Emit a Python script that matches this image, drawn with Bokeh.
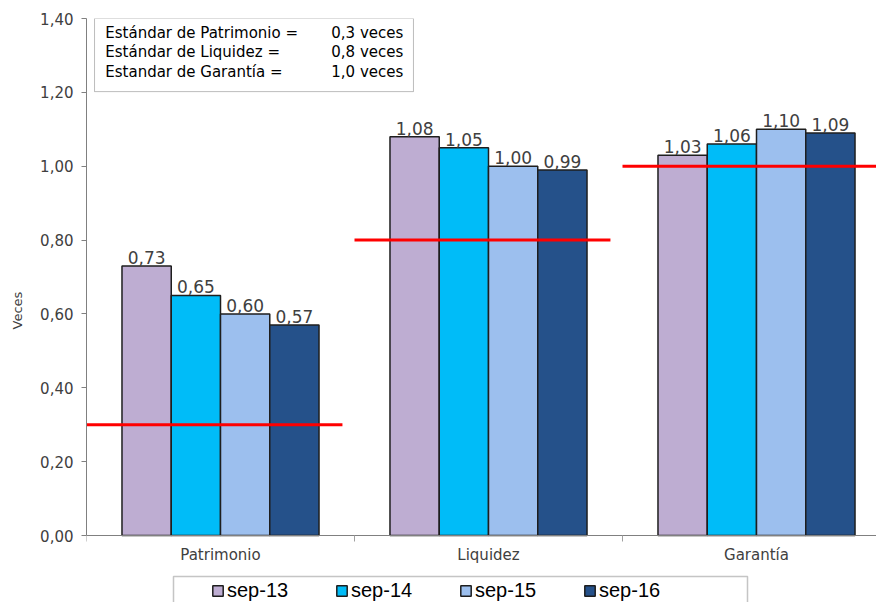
from bokeh.plotting import figure
from bokeh.models import (Range1d, FixedTicker, Legend, LegendItem, BoxAnnotation,
                          Label, ColumnDataSource)
from bokeh.core.properties import value
from bokeh.embed import file_html
from bokeh.resources import INLINE

# ---------------- data ----------------
categories = ["Patrimonio", "Liquidez", "Garantía"]
series = ["sep-13", "sep-14", "sep-15", "sep-16"]
values = {
    "sep-13": [0.73, 1.08, 1.03],
    "sep-14": [0.65, 1.05, 1.06],
    "sep-15": [0.60, 1.00, 1.10],
    "sep-16": [0.57, 0.99, 1.09],
}
standards = [0.3, 0.8, 1.0]
standard_names = ["Estándar de Patrimonio =", "Estándar de Liquidez =", "Estandar de Garantía ="]
standard_texts = ["0,3 veces", "0,8 veces", "1,0 veces"]
y_ticks = [0.0, 0.2, 0.4, 0.6, 0.8, 1.0, 1.2, 1.4]
y_tick_labels = ["0,00", "0,20", "0,40", "0,60", "0,80", "1,00", "1,20", "1,40"]
colors = ["#BEADD2", "#00BCF8", "#9CBFEE", "#25518A"]

FONT = "DejaVu Sans"
PX_PER_UNIT = 369.3          # vertical scale
Y_MIN = -(602 - 535) / PX_PER_UNIT   # room below zero for labels and legend

p = figure(width=876, height=602, output_backend="svg", toolbar_location=None,
           x_range=Range1d(0, 790 / 268), y_range=Range1d(Y_MIN, 1.4),
           min_border_left=86, min_border_right=0, min_border_top=18, min_border_bottom=0)
p.outline_line_color = None
p.xgrid.grid_line_color = None
p.ygrid.grid_line_color = None
p.background_fill_color = "white"

bar_w = 0.1838
renderers = []
for j, s in enumerate(series):
    xs = [i + 0.5 + (j - 1.5) * bar_w for i in range(len(categories))]
    src = ColumnDataSource(dict(x=xs, top=values[s],
                                lbl=[f"{v:.2f}".replace(".", ",") for v in values[s]]))
    r = p.vbar(x="x", top="top", bottom=0, width=bar_w, source=src,
               fill_color=colors[j], line_color="#1E1E1E", line_width=1.5)
    renderers.append(r)
    p.text(x="x", y="top", text="lbl", source=src, text_align="center",
           text_baseline="bottom", y_offset=-2, text_font=value(FONT),
           text_font_size="17px", text_color="#404040")

# standard red lines
p.segment(x0=[i for i in range(len(categories))],
          x1=[i + 0.955 for i in range(len(categories))],
          y0=standards, y1=standards, line_color="#FF0000", line_width=3)

# y axis
p.yaxis.ticker = FixedTicker(ticks=y_ticks)
p.yaxis.bounds = (0, 1.4)
p.yaxis.major_label_overrides = {t: l for t, l in zip(y_ticks, y_tick_labels)}
p.yaxis.axis_label = "Veces"
p.yaxis.axis_label_text_font = FONT
p.yaxis.axis_label_text_font_style = "normal"
p.yaxis.axis_label_text_font_size = "13px"
p.yaxis.axis_label_text_color = "#404040"
p.yaxis.axis_label_standoff = 12
p.yaxis.major_label_text_font = FONT
p.yaxis.major_label_text_font_size = "15px"
p.yaxis.major_label_text_color = "#404040"
p.yaxis.major_label_standoff = 8
p.yaxis.axis_line_color = "#808080"
p.yaxis.major_tick_line_color = "#808080"
p.yaxis.major_tick_out = 5
p.yaxis.major_tick_in = 0
p.yaxis.minor_tick_line_color = None

# x axis, fixed at y = 0
cat_centers = [i + 0.5 for i in range(len(categories))]
p.xaxis.fixed_location = 0
p.xaxis.ticker = FixedTicker(ticks=cat_centers, minor_ticks=list(range(len(categories) + 1)))
p.xaxis.major_label_overrides = {c: n for c, n in zip(cat_centers, categories)}
p.xaxis.major_tick_line_color = None
p.xaxis.major_tick_out = 0
p.xaxis.major_tick_in = 0
p.xaxis.minor_tick_line_color = "#A0A0A0"
p.xaxis.minor_tick_out = 6
p.xaxis.minor_tick_in = 0
p.xaxis.axis_line_color = "#808080"
p.xaxis.major_label_text_font = FONT
p.xaxis.major_label_text_font_size = "15px"
p.xaxis.major_label_text_color = "#404040"
p.xaxis.major_label_standoff = 4

# standards text box
p.add_layout(BoxAnnotation(left=0.03, right=1.22, top=1.40, bottom=1.202,
                           fill_color="white", fill_alpha=1, line_color="#202020",
                           line_width=1, level="overlay"))
line_y = [1.362, 1.308, 1.256]
for name, txt, yy in zip(standard_names, standard_texts, line_y):
    p.add_layout(Label(x=0.07, y=yy, text=name, text_font=FONT, text_font_size="15px",
                       text_baseline="middle", text_align="left", text_color="black",
                       level="overlay"))
    p.add_layout(Label(x=1.182, y=yy, text=txt, text_font=FONT, text_font_size="15px",
                       text_baseline="middle", text_align="right", text_color="black",
                       level="overlay"))

# legend frame (below the category labels)
p.add_layout(BoxAnnotation(left=(173 - 86) / 268, right=(747 - 86) / 268,
                           top=(535 - 576) / PX_PER_UNIT, bottom=Y_MIN - 0.05,
                           fill_color="white", fill_alpha=1, line_color="#404040",
                           line_width=1.5, level="overlay"))

legend = Legend(items=[LegendItem(label=s, renderers=[r]) for s, r in zip(series, renderers)],
                orientation="horizontal", location=(125, 0),
                border_line_color=None, background_fill_alpha=0,
                glyph_width=13, glyph_height=13, label_standoff=3,
                label_width=108, spacing=0, padding=6, margin=0,
                label_text_font="Liberation Sans", label_text_font_size="20px",
                label_text_color="black", label_height=20)
p.add_layout(legend)

open("out.html", "w").write(file_html(p, INLINE))
